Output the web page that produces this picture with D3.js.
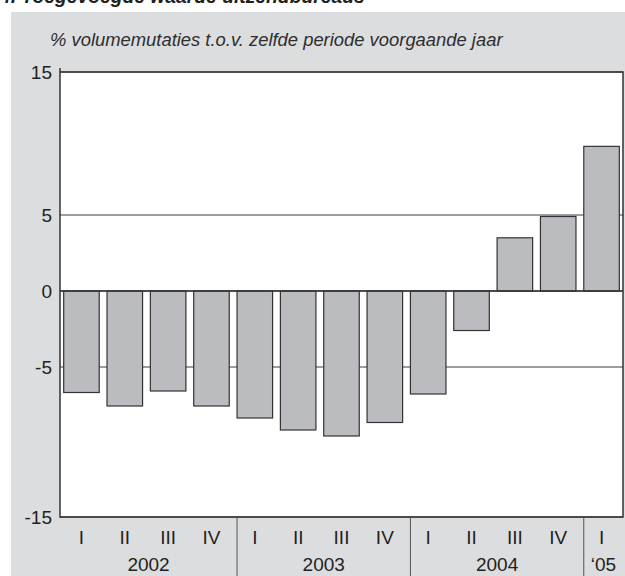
<!DOCTYPE html>
<meta charset="utf-8" />
<script src="https://d3js.org/d3.v7.min.js"></script>
<style>
  body { margin: 0; background: #fff; }
  text { font-family: "Liberation Sans", Arial, sans-serif; fill: #231f20; }
</style>
<div id="chart"></div>
<script>
  var quarters = ["I", "II", "III", "IV", "I", "II", "III", "IV", "I", "II", "III", "IV", "I"];
  var years = ["2002", "2003", "2004", "\u201805"];
  var yearStart = [0, 4, 8, 12];
  var yearEnd = [4, 8, 12, 13];
  var values = [-6.7, -7.6, -6.6, -7.6, -8.4, -9.2, -9.6, -8.7, -6.8, -2.6, 3.5, 4.9, 9.8];
  var yTicks = [15, 5, 0, -5, -15];

  var width = 625, height = 576;
  var plotL = 60, plotR = 623, plotT = 72, plotB = 517;

  var svg = d3.select("#chart").append("svg")
    .attr("width", width)
    .attr("height", height);

  // grey panel
  svg.append("rect")
    .attr("x", 11).attr("y", 12)
    .attr("width", width - 11).attr("height", height - 12)
    .attr("fill", "#dcdddf");

  // cut-off title
  svg.append("text")
    .attr("x", 0).attr("y", 3)
    .style("font-size", "19.3px")
    .style("font-weight", "bold")
    .style("font-style", "italic")
    .text("4. Toegevoegde waarde uitzendbureaus");

  svg.append("text")
    .attr("x", 50).attr("y", 46)
    .style("font-size", "18.4px")
    .style("font-style", "italic")
    .style("fill", "#2e2e2e")
    .text("% volumemutaties t.o.v. zelfde periode voorgaande jaar");

  var x = d3.scaleBand()
    .domain(d3.range(values.length))
    .range([plotL, plotR])
    .paddingInner(0.18)
    .paddingOuter(0.085);

  var y = d3.scaleLinear()
    .domain([-15, -5, 0, 5, 15])
    .range([517, 367, 291, 215, 72]);

  // plot area
  svg.append("rect")
    .attr("x", plotL).attr("y", plotT)
    .attr("width", plotR - plotL).attr("height", plotB - plotT)
    .attr("fill", "#fff");

  // grid lines
  svg.selectAll(".grid")
    .data(yTicks)
    .enter()
    .append("line")
    .attr("x1", plotL).attr("x2", plotR)
    .attr("y1", function(d) { return y(d); })
    .attr("y2", function(d) { return y(d); })
    .attr("stroke", "#3a3a3a")
    .attr("stroke-width", 1);

  svg.selectAll(".bar")
    .data(values)
    .enter()
    .append("rect")
    .attr("x", function(d, i) { return x(i); })
    .attr("width", x.bandwidth())
    .attr("y", function(d) { return y(Math.max(0, d)); })
    .attr("height", function(d) { return Math.abs(y(d) - y(0)); })
    .attr("fill", "#bbbcc0")
    .attr("stroke", "#333")
    .attr("stroke-width", 1.2);

  // zero line on top
  svg.append("line")
    .attr("x1", plotL).attr("x2", plotR)
    .attr("y1", y(0)).attr("y2", y(0))
    .attr("stroke", "#333")
    .attr("stroke-width", 1.5);

  // frame
  svg.append("path")
    .attr("d", "M" + plotL + "," + (plotT - 4) + "V" + plotB + "H" + plotR + "V" + plotT + "H" + plotL)
    .attr("fill", "none")
    .attr("stroke", "#333")
    .attr("stroke-width", 1.5);

  // y labels
  svg.selectAll(".ylab")
    .data(yTicks)
    .enter()
    .append("text")
    .attr("x", 52)
    .attr("y", function(d) { return y(d) + 7; })
    .attr("text-anchor", "end")
    .style("font-size", "19px")
    .text(function(d) { return d; });

  // quarter labels
  svg.selectAll(".qlab")
    .data(quarters)
    .enter()
    .append("text")
    .attr("x", function(d, i) { return x(i) + x.bandwidth() / 2; })
    .attr("y", 544)
    .attr("text-anchor", "middle")
    .style("font-size", "19px")
    .text(function(d) { return d; });

  // year labels and separators
  svg.selectAll(".ylabel")
    .data(years)
    .enter()
    .append("text")
    .attr("x", function(d, i) {
      var a = i == 0 ? plotL : x(yearStart[i]);
      var b = yearEnd[i] >= values.length ? plotR : x(yearEnd[i]);
      return (a + b) / 2;
    })
    .attr("y", 571)
    .attr("text-anchor", "middle")
    .style("font-size", "19px")
    .text(function(d) { return d; });

  svg.selectAll(".sep")
    .data(yearStart.slice(1))
    .enter()
    .append("line")
    .attr("x1", function(d) { return x(d); })
    .attr("x2", function(d) { return x(d); })
    .attr("y1", plotB).attr("y2", height)
    .attr("stroke", "#555")
    .attr("stroke-width", 1);
</script>
